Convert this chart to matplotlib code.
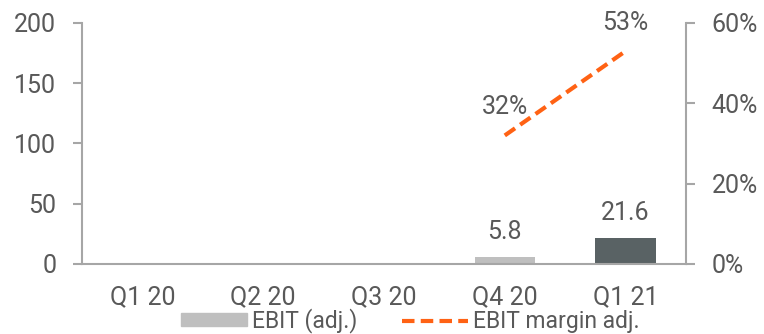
import matplotlib.pyplot as plt
from matplotlib.patches import Patch
from matplotlib.lines import Line2D

plt.rcParams['font.family'] = ['Roboto', 'DejaVu Sans']

quarters = ['Q1 20', 'Q2 20', 'Q3 20', 'Q4 20', 'Q1 21']
ebit = [None, None, None, 5.8, 21.6]
margin = [None, None, None, 32, 53]
bar_colors = ['#BFBFBF', '#BFBFBF', '#BFBFBF', '#BFBFBF', '#596264']

text_c = '#595959'
axis_c = '#A6A6A6'
orange = '#FF6214'
fs = 18
dash = (3.0, 1.5)

fig = plt.figure(figsize=(7.64, 3.34), dpi=100)
ax = fig.add_axes([0.1073, 0.2096, 0.7906, 0.7216])
x = list(range(len(quarters)))

for i, v in enumerate(ebit):
    if v is None:
        continue
    ax.bar(i, v, width=0.5, color=bar_colors[i], zorder=2)
    ax.text(i, v + 21, f'{v:.1f}', ha='center', va='center', fontsize=fs, color=text_c)

ax.set_xlim(-0.5, 4.5)
ax.set_ylim(0, 200)
ax.set_yticks([0, 50, 100, 150, 200])
ax.set_xticks(x)
ax.set_xticklabels(quarters)
ax.tick_params(axis='y', colors=axis_c, labelcolor=text_c, labelsize=fs, length=6.5, width=1.5, pad=12)
ax.tick_params(axis='x', length=0, labelcolor=text_c, labelsize=fs, pad=15)
for s in ['top', 'right']:
    ax.spines[s].set_visible(False)
for s in ['bottom', 'left']:
    ax.spines[s].set_color(axis_c)
    ax.spines[s].set_linewidth(1.5)

ax2 = ax.twinx()
mx = [i for i, m in enumerate(margin) if m is not None]
my = [m for m in margin if m is not None]
ax2.plot(mx, my, color=orange, lw=3, dashes=dash, zorder=3)
for i, m in zip(mx, my):
    ax2.text(i, m + 7, f'{m}%', ha='center', va='center', fontsize=fs, color=text_c)
ax2.set_ylim(0, 60)
ax2.set_yticks([0, 20, 40, 60])
ax2.set_yticklabels(['0%', '20%', '40%', '60%'])
ax2.tick_params(axis='y', colors=axis_c, labelcolor=text_c, labelsize=fs, length=6.5, width=1.5, pad=12)
for s in ['top', 'left', 'bottom']:
    ax2.spines[s].set_visible(False)
ax2.spines['right'].set_color(axis_c)
ax2.spines['right'].set_linewidth(1.5)

handles = [Patch(color='#BFBFBF'), Line2D([0], [0], color=orange, lw=3, dashes=dash)]
fig.legend(handles, ['EBIT (adj.)', 'EBIT margin adj.'], loc='lower center', ncol=2,
           bbox_to_anchor=(0.537, -0.06), frameon=False, fontsize=16.5, labelcolor=text_c,
           handlelength=2.9, handleheight=0.5, columnspacing=1.95, handletextpad=0.2)

fig.savefig('out.png', dpi=100)
